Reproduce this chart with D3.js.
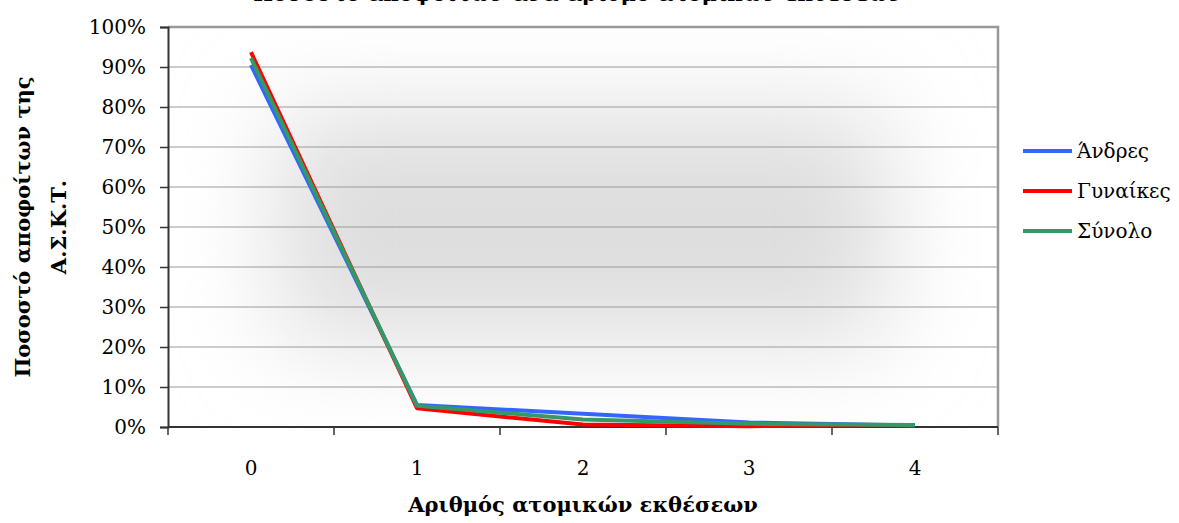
<!DOCTYPE html>
<html>
<head>
<meta charset="utf-8">
<script src="https://cdn.jsdelivr.net/npm/d3@7"></script>
<style>
  html, body { margin: 0; padding: 0; background: #fff; }
  svg { display: block; font-family: "DejaVu Serif", serif; }
</style>
</head>
<body>
<svg id="chart" width="1179" height="523"></svg>
<script>
"use strict";
// Data
const categories = ["0", "1", "2", "3", "4"];
const men = [0.905, 0.055, 0.033, 0.011, 0.004];
const women = [0.937, 0.047, 0.006, 0.002, 0.005];
const total = [0.922, 0.053, 0.019, 0.008, 0.005];
const seriesNames = ["Άνδρες", "Γυναίκες", "Σύνολο"];
const seriesColors = ["#3366ff", "#ff0000", "#339966"];
const yTicks = [0, 0.1, 0.2, 0.3, 0.4, 0.5, 0.6, 0.7, 0.8, 0.9, 1.0];
const chartTitle = "Ποσοστό αποφοίτων ανά αριθμό ατομικών εκθέσεων";
const xTitle = "Αριθμός ατομικών εκθέσεων";
const yTitleLines = ["Ποσοστό αποφοίτων της", "Α.Σ.Κ.Τ."];

(function () {
  const svg = d3.select("#chart");
  const plot = { left: 168, right: 998, top: 27, bottom: 427 };

  const x = d3
    .scaleBand()
    .domain(categories)
    .range([plot.left, plot.right]);
  const y = d3.scaleLinear().domain([0, 1]).range([plot.bottom, plot.top]);

  // Plot background: soft grey glow fading to white at the edges
  const defs = svg.append("defs");
  defs
    .append("clipPath")
    .attr("id", "plotClip")
    .append("rect")
    .attr("x", plot.left)
    .attr("y", plot.top)
    .attr("width", plot.right - plot.left)
    .attr("height", plot.bottom - plot.top);
  defs
    .append("filter")
    .attr("id", "glow")
    .attr("x", "-50%")
    .attr("y", "-50%")
    .attr("width", "200%")
    .attr("height", "200%")
    .append("feGaussianBlur")
    .attr("stdDeviation", 50);

  const bg = svg.append("g").attr("clip-path", "url(#plotClip)");
  bg.append("rect")
    .attr("x", plot.left)
    .attr("y", plot.top)
    .attr("width", plot.right - plot.left)
    .attr("height", plot.bottom - plot.top)
    .attr("fill", "#ffffff");
  bg.append("rect")
    .attr("x", plot.left + 110)
    .attr("y", plot.top + 85)
    .attr("width", plot.right - plot.left - 220)
    .attr("height", plot.bottom - plot.top - 170)
    .attr("fill", "#dedede")
    .attr("filter", "url(#glow)");

  // Gridlines
  svg
    .append("g")
    .selectAll("line")
    .data(yTicks.filter((d) => d > 0 && d < 1))
    .join("line")
    .attr("x1", plot.left)
    .attr("x2", plot.right)
    .attr("y1", (d) => y(d))
    .attr("y2", (d) => y(d))
    .attr("stroke", "#9a9a9a")
    .attr("stroke-width", 1);

  // Top and right border of plot area
  svg
    .append("path")
    .attr("d", `M${plot.left},${y(1)}H${plot.right}V${plot.bottom}`)
    .attr("fill", "none")
    .attr("stroke", "#999")
    .attr("stroke-width", 2.5);

  // Y axis
  const yAxis = svg
    .append("g")
    .attr("transform", `translate(${plot.left},0)`)
    .call(
      d3
        .axisLeft(y)
        .tickValues(yTicks)
        .tickSize(8)
        .tickPadding(14)
        .tickFormat(d3.format(".0%"))
    );
  yAxis.select(".domain").attr("stroke", "#333").attr("stroke-width", 2);
  yAxis.selectAll(".tick line").attr("stroke", "#333").attr("stroke-width", 1.5);
  yAxis
    .selectAll(".tick text")
    .attr("fill", "#000")
    .style("font-size", "20px")
    .style("font-family", "DejaVu Serif, serif");

  // X axis: line, ticks at band boundaries, labels at band centres
  const xAxis = svg.append("g");
  xAxis
    .append("line")
    .attr("x1", plot.left)
    .attr("x2", plot.right)
    .attr("y1", plot.bottom)
    .attr("y2", plot.bottom)
    .attr("stroke", "#333")
    .attr("stroke-width", 2);
  const bounds = categories
    .map((c) => x(c))
    .concat([x(categories[categories.length - 1]) + x.bandwidth()]);
  xAxis
    .selectAll(".xtick")
    .data(bounds)
    .join("line")
    .attr("class", "xtick")
    .attr("x1", (d) => d)
    .attr("x2", (d) => d)
    .attr("y1", plot.bottom)
    .attr("y2", plot.bottom + 8)
    .attr("stroke", "#333")
    .attr("stroke-width", 1.5);
  xAxis
    .selectAll(".xlabel")
    .data(categories)
    .join("text")
    .attr("class", "xlabel")
    .attr("x", (d) => x(d) + x.bandwidth() / 2)
    .attr("y", 475)
    .attr("text-anchor", "middle")
    .style("font-size", "20px")
    .text((d) => d);

  // Lines
  const line = d3
    .line()
    .x((d, i) => x(categories[i]) + x.bandwidth() / 2)
    .y((d) => y(d));
  const series = [men, women, total];
  svg
    .append("g")
    .selectAll("path")
    .data(series)
    .join("path")
    .attr("d", line)
    .attr("fill", "none")
    .attr("stroke", (d, i) => seriesColors[i])
    .attr("stroke-width", 4)
    .attr("stroke-linejoin", "round");

  // Titles (chart title sits mostly above the top edge, as in the original)
  svg
    .append("text")
    .attr("x", 578)
    .attr("y", 1)
    .attr("text-anchor", "middle")
    .style("font-size", "21px")
    .style("font-weight", "bold")
    .text(chartTitle);
  svg
    .append("text")
    .attr("x", (plot.left + plot.right) / 2)
    .attr("y", 512)
    .attr("text-anchor", "middle")
    .style("font-size", "21px")
    .style("font-weight", "bold")
    .text(xTitle);
  const yTitle = svg
    .append("text")
    .attr("transform", "translate(0,227) rotate(-90)")
    .attr("text-anchor", "middle")
    .style("font-size", "21px")
    .style("font-weight", "bold");
  yTitle
    .selectAll("tspan")
    .data(yTitleLines)
    .join("tspan")
    .attr("x", 0)
    .attr("y", (d, i) => 30 + i * 36)
    .text((d) => d);

  // Legend
  const legend = svg
    .append("g")
    .selectAll("g")
    .data(seriesNames)
    .join("g")
    .attr("transform", (d, i) => `translate(1023,${151 + i * 40})`);
  legend
    .append("line")
    .attr("x1", 0)
    .attr("x2", 49)
    .attr("stroke", (d, i) => seriesColors[i])
    .attr("stroke-width", 4);
  legend
    .append("text")
    .attr("x", 54)
    .attr("dy", "0.35em")
    .style("font-size", "20px")
    .text((d) => d);
})();
</script>
</body>
</html>
